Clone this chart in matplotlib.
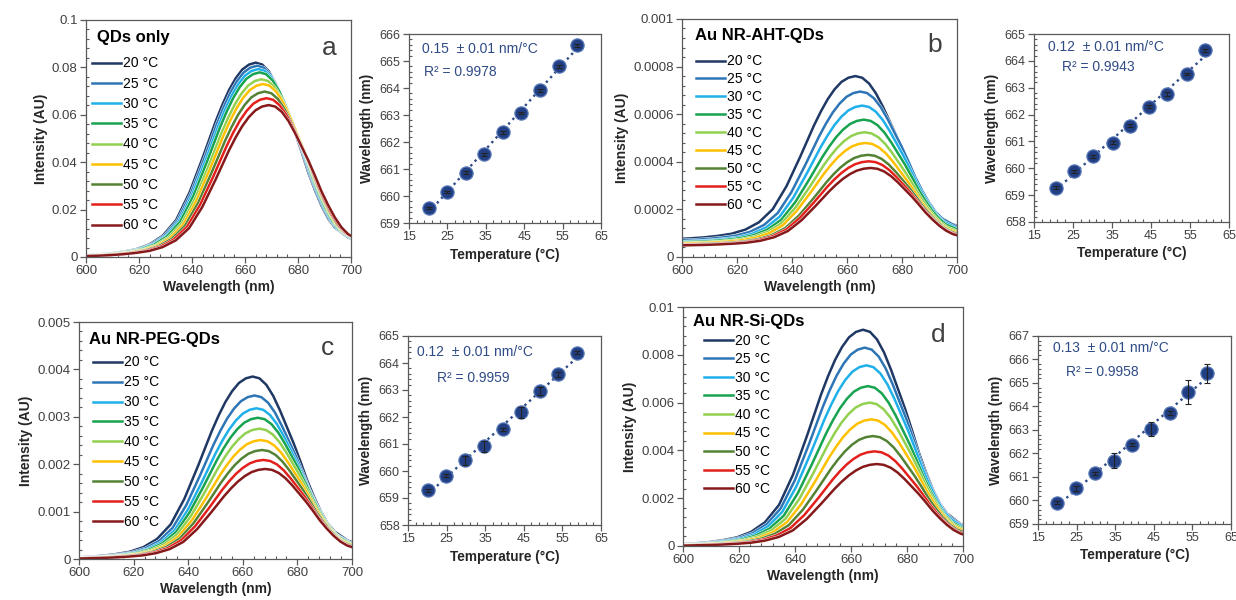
import numpy as np
import matplotlib
matplotlib.use('Agg')
import matplotlib.pyplot as plt
import matplotlib.patheffects as pe
from matplotlib.ticker import AutoMinorLocator, MultipleLocator, FuncFormatter

plt.rcParams['font.family'] = ['Liberation Sans', 'DejaVu Sans']

# legend labels and line colours (20 -> 60 °C)
temp_labels = ['20 °C', '25 °C', '30 °C', '35 °C', '40 °C', '45 °C', '50 °C', '55 °C', '60 °C']
line_colors = ['#1f3864', '#2e75b6', '#1fb0ea', '#17a34f', '#92d050', '#ffc000', '#548235', '#e3201c', '#86191a']

# emission band profile (offset from peak in nm, normalised height)
shape_offsets = [-80, -70, -65, -60, -55, -50, -45, -40, -35, -30, -25, -20, -15, -12.5, -10, -7.5, -5, -2.5,
                 0, 2.5, 5, 7.5, 10, 12.5, 15, 17.5, 20, 22.5, 25, 27.5, 30, 35, 40, 45, 50]
shape_values = [0.002, 0.005, 0.008, 0.012, 0.018, 0.027, 0.04, 0.065, 0.11, 0.19, 0.33, 0.51, 0.70, 0.785,
                0.86, 0.92, 0.965, 0.99, 1.0, 0.99, 0.955, 0.895, 0.815, 0.725, 0.635, 0.535, 0.43, 0.34, 0.26,
                0.195, 0.15, 0.10, 0.072, 0.052, 0.036]

# peak intensities / peak wavelengths of each spectrum
peaks_a = [0.0820, 0.0807, 0.0793, 0.0779, 0.0750, 0.0730, 0.0698, 0.0670, 0.0641]
centers_a = [664.0, 664.5, 665.0, 665.5, 666.2, 666.8, 667.4, 668.1, 668.9]
base_a = [0, 0, 0, 0, 0, 0, 0, 0, 0]

peaks_b = [0.00069, 0.00063, 0.000576, 0.000519, 0.000469, 0.000426, 0.000379, 0.000354, 0.000327]
centers_b = [663.0, 664.8, 665.5, 666.1, 666.4, 666.7, 667.6, 667.9, 668.5]
base_b = [0.00007, 0.000065, 0.00006, 0.000058, 0.000055, 0.000053, 0.00005, 0.000048, 0.000047]

peaks_c = [0.00385, 0.00345, 0.00318, 0.00298, 0.00275, 0.00251, 0.00230, 0.00209, 0.00190]
centers_c = [663.6, 664.3, 665.0, 665.5, 666.0, 666.5, 667.0, 667.5, 668.2]
base_c = [0, 0, 0, 0, 0, 0, 0, 0, 0]

peaks_d = [0.00905, 0.0083, 0.00756, 0.00669, 0.0060, 0.0053, 0.0046, 0.00396, 0.00343]
centers_d = [664.3, 664.9, 665.5, 666.0, 666.6, 667.2, 667.8, 668.4, 669.2]
base_d = [0, 0, 0, 0, 0, 0, 0, 0, 0]

# peak wavelength vs temperature
temp_ticks = [15, 25, 35, 45, 55, 65]

temp_a = [20.1, 24.9, 29.8, 34.6, 39.4, 44.3, 49.1, 54.0, 58.8]
wl_a = [659.56, 660.15, 660.87, 661.55, 662.36, 663.08, 663.92, 664.80, 665.58]
err_a = [0.05, 0.05, 0.05, 0.05, 0.05, 0.05, 0.05, 0.05, 0.05]

temp_b = [20.6, 25.3, 30.0, 35.3, 39.6, 44.4, 49.1, 54.1, 58.7]
wl_b = [659.28, 659.89, 660.45, 660.95, 661.59, 662.29, 662.77, 663.51, 664.39]
err_b = [0.05, 0.06, 0.05, 0.05, 0.06, 0.06, 0.07, 0.05, 0.05]

temp_c = [20.1, 24.9, 29.7, 34.6, 39.7, 44.4, 49.2, 54.0, 58.8]
wl_c = [659.28, 659.82, 660.39, 660.91, 661.55, 662.18, 662.97, 663.58, 664.38]
err_c = [0.06, 0.06, 0.15, 0.20, 0.05, 0.20, 0.15, 0.08, 0.05]

temp_d = [19.9, 24.8, 29.7, 34.6, 39.4, 44.3, 49.1, 53.9, 58.8]
wl_d = [659.90, 660.51, 661.15, 661.70, 662.38, 663.06, 663.73, 664.61, 665.42]
err_d = [0.06, 0.10, 0.08, 0.30, 0.08, 0.30, 0.08, 0.50, 0.40]

spine_col = '#595959'
tick_col = '#404040'
fit_col = '#2f4b86'


def style_axes(ax):
    for s in ax.spines.values():
        s.set_color(spine_col)
        s.set_linewidth(0.9)
    ax.tick_params(which='major', direction='out', length=4, width=0.9, color=spine_col,
                   labelcolor=tick_col, labelsize=9.5, pad=2)
    ax.tick_params(which='minor', direction='in', length=2.5, width=0.8, color=spine_col)


def spectrum_panel(ax, peaks, centers, base, ymax, title, letter, title_xy, letter_xy, leg_xy, lspace):
    off = np.array(shape_offsets)
    prof = np.array(shape_values)
    for i in range(len(peaks)):
        ax.plot(centers[i] + off, base[i] + peaks[i] * prof, color=line_colors[i], lw=1.8,
                label=temp_labels[i],
                path_effects=[pe.Stroke(linewidth=2.4, foreground='white'), pe.Normal()])
    ax.set_xlim(600, 700)
    ax.set_ylim(0, ymax)
    ax.xaxis.set_major_locator(MultipleLocator(20))
    ax.yaxis.set_major_locator(MultipleLocator(ymax / 5))
    ax.xaxis.set_minor_locator(AutoMinorLocator(5))
    ax.yaxis.set_minor_locator(AutoMinorLocator(5))
    ax.yaxis.set_major_formatter(FuncFormatter(lambda v, p: '%g' % round(v, 6)))
    ax.set_xlabel('Wavelength (nm)', fontsize=10, fontweight='bold', color='#262626', labelpad=2)
    ax.set_ylabel('Intensity (AU)', fontsize=10, fontweight='bold', color='#262626', labelpad=3)
    style_axes(ax)
    ax.text(title_xy[0], title_xy[1], title, transform=ax.transAxes, fontsize=12, fontweight='bold',
            ha='left', va='center', color='black')
    ax.text(letter_xy[0], letter_xy[1], letter, transform=ax.transAxes, fontsize=19,
            ha='center', va='baseline', color='#404040')
    ax.legend(loc='upper left', bbox_to_anchor=leg_xy, frameon=False, fontsize=10,
              borderpad=0, borderaxespad=0, handlelength=2.1, handletextpad=0.15,
              labelspacing=lspace)


def scatter_panel(ax, temps, wl, err, ylim, slope_txt, r2_txt, s_xy, r_xy):
    k, b = np.polyfit(temps, wl, 1)
    xs = np.array([temps[0], temps[-1]])
    ax.plot(xs, k * xs + b, ls=':', lw=1.7, color=fit_col, zorder=2)
    ax.plot(temps, wl, 'o', ms=9.5, mfc='#213f82', mec='#5878b8', mew=0.9, zorder=3)
    ax.errorbar(temps, wl, yerr=err, fmt='none', ecolor='#222222', elinewidth=0.8, capsize=2.2,
                capthick=0.8, zorder=4)
    ax.set_xlim(15, 65)
    ax.set_ylim(ylim)
    ax.set_xticks(temp_ticks)
    ax.yaxis.set_major_locator(MultipleLocator(1))
    ax.xaxis.set_minor_locator(AutoMinorLocator(5))
    ax.yaxis.set_minor_locator(AutoMinorLocator(5))
    ax.set_xlabel('Temperature (°C)', fontsize=9.8, fontweight='bold', color='#262626', labelpad=3)
    ax.set_ylabel('Wavelength (nm)', fontsize=9.8, fontweight='bold', color='#262626', labelpad=4)
    style_axes(ax)
    ax.tick_params(which='major', labelsize=9)
    ax.text(s_xy[0], s_xy[1], slope_txt, transform=ax.transAxes, fontsize=10, color=fit_col,
            ha='left', va='center')
    ax.text(r_xy[0], r_xy[1], r2_txt, transform=ax.transAxes, fontsize=10, color=fit_col,
            ha='left', va='center')


fig = plt.figure(figsize=(12.36, 6), dpi=100)

ax_a = fig.add_axes([0.0696, 0.5717, 0.2144, 0.395])
ax_sa = fig.add_axes([0.3309, 0.6283, 0.1553, 0.315])
ax_b = fig.add_axes([0.5518, 0.5717, 0.2225, 0.3967])
ax_sb = fig.add_axes([0.8366, 0.6300, 0.1578, 0.3133])
ax_c = fig.add_axes([0.0639, 0.0683, 0.2209, 0.395])
ax_sc = fig.add_axes([0.3301, 0.1250, 0.1561, 0.315])
ax_d = fig.add_axes([0.5526, 0.0900, 0.2265, 0.3983])
ax_sd = fig.add_axes([0.8398, 0.1267, 0.1561, 0.3133])

spectrum_panel(ax_a, peaks_a, centers_a, base_a, 0.1, 'QDs only', 'a',
               (0.04, 0.924), (0.917, 0.852), (0.023, 0.846), 0.45)
spectrum_panel(ax_b, peaks_b, centers_b, base_b, 0.001, 'Au NR-AHT-QDs', 'b',
               (0.047, 0.929), (0.92, 0.861), (0.051, 0.851), 0.28)
spectrum_panel(ax_c, peaks_c, centers_c, base_c, 0.005, 'Au NR-PEG-QDs', 'c',
               (0.037, 0.928), (0.912, 0.861), (0.051, 0.859), 0.43)
spectrum_panel(ax_d, peaks_d, centers_d, base_d, 0.01, 'Au NR-Si-QDs', 'd',
               (0.036, 0.94), (0.911, 0.854), (0.075, 0.889), 0.33)

scatter_panel(ax_sa, temp_a, wl_a, err_a, (659, 666), '0.15  ± 0.01 nm/°C', 'R² = 0.9978',
              (0.068, 0.92), (0.078, 0.80))
scatter_panel(ax_sb, temp_b, wl_b, err_b, (658, 665), '0.12  ± 0.01 nm/°C', 'R² = 0.9943',
              (0.072, 0.93), (0.144, 0.825))
scatter_panel(ax_sc, temp_c, wl_c, err_c, (658, 665), '0.12  ± 0.01 nm/°C', 'R² = 0.9959',
              (0.047, 0.915), (0.15, 0.78))
scatter_panel(ax_sd, temp_d, wl_d, err_d, (659, 667), '0.13  ± 0.01 nm/°C', 'R² = 0.9958',
              (0.078, 0.936), (0.145, 0.81))

fig.savefig('out.png', dpi=100, facecolor='white')
